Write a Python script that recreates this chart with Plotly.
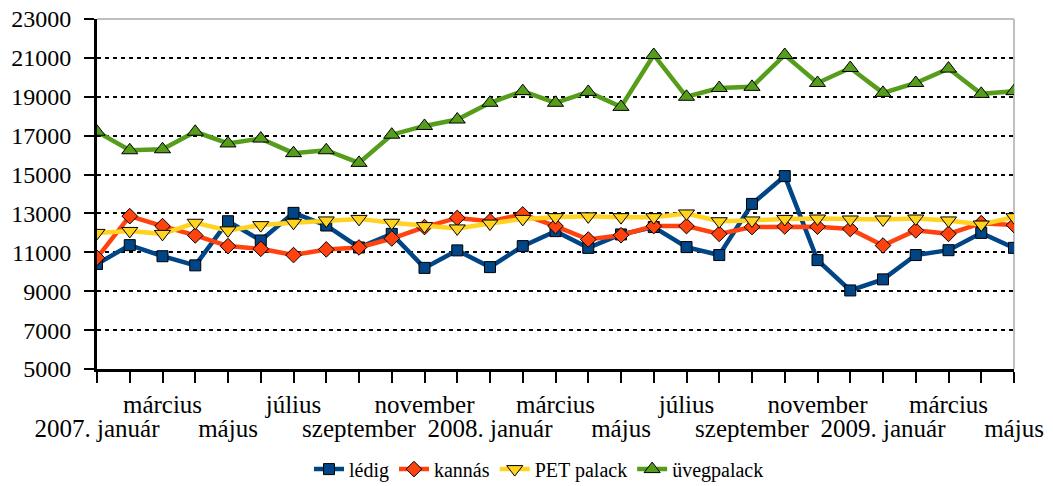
import plotly.graph_objects as go

# havi adatok: 2007. január - 2009. május
months = [
    "2007. január", "február", "március", "április", "május", "június",
    "július", "augusztus", "szeptember", "október", "november", "december",
    "2008. január", "február", "március", "április", "május", "június",
    "július", "augusztus", "szeptember", "október", "november", "december",
    "2009. január", "február", "március", "április", "május",
]

ledig = [10400, 11370, 10800, 10330, 12600, 11610, 13030, 12380, 11250, 11950,
         10200, 11100, 10240, 11320, 12090, 11230, 11920, 12300, 11270, 10860,
         13490, 14920, 10600, 9040, 9610, 10860, 11110, 12000, 11230]
kannas = [10720, 12860, 12350, 11870, 11320, 11180, 10860, 11150, 11250, 11710,
          12300, 12770, 12600, 12950, 12350, 11660, 11880, 12350, 12350, 11950,
          12300, 12330, 12320, 12200, 11350, 12130, 11950, 12500, 12400]
pet_palack = [12000, 12100, 11950, 12520, 12130, 12400, 12520, 12640, 12720, 12520,
              12350, 12230, 12480, 12720, 12810, 12850, 12810, 12810, 13000, 12600,
              12640, 12720, 12740, 12690, 12690, 12740, 12640, 12430, 12810]
uvegpalack = [17200, 16250, 16300, 17200, 16600, 16850, 16100, 16250, 15600, 17050,
              17500, 17830, 18690, 19290, 18690, 19250, 18480, 21150, 19000, 19450,
              19510, 21150, 19710, 20480, 19200, 19710, 20450, 19150, 19290]

y_ticks = list(range(5000, 23001, 2000))
y_labels = [str(v) for v in y_ticks]

FONT = "Liberation Serif"

idx = list(range(len(months)))
# felső sor: március, július, november ...; alsó sor: január, május, szeptember ...
row1_text = [m if i % 4 == 2 else "" for i, m in enumerate(months)]
row2_vals = [i for i in idx if i % 4 == 0]
row2_text = [months[i] for i in row2_vals]

series = [
    ("lédig", ledig, "#004586", "square", 11),
    ("kannás", kannas, "#ff420e", "diamond", 12),
    ("PET palack", pet_palack, "#ffd320", "triangle-down", 14),
    ("üvegpalack", uvegpalack, "#579d1c", "triangle-up", 14),
]

fig = go.Figure()

for name, values, color, symbol, size in series:
    fig.add_trace(go.Scatter(
        x=idx,
        y=values,
        name=name,
        mode="lines+markers",
        line=dict(color=color, width=4.5),
        marker=dict(symbol=symbol, size=size, color=color,
                    line=dict(color="black", width=1)),
    ))

# második sor x-címkéinek tengelye
fig.add_trace(go.Scatter(
    x=[0, 28], y=[None, None], xaxis="x2",
    showlegend=False, hoverinfo="skip",
))

tick_font = dict(family=FONT, size=25, color="black")

# the page body has an 8px margin, so the figure is a bit smaller
fig.update_layout(
    width=1045,
    height=478,
    autosize=False,
    margin=dict(l=89, r=39, t=11, b=117, autoexpand=False),
    paper_bgcolor="white",
    plot_bgcolor="white",
    font=dict(family=FONT, color="black", size=25),
    xaxis=dict(
        range=[0, 28],
        tickmode="array",
        tickvals=idx,
        ticktext=row1_text,
        ticks="outside",
        ticklen=11,
        tickwidth=2,
        tickcolor="black",
        showline=True,
        linecolor="black",
        linewidth=3,
        showgrid=False,
        zeroline=False,
        automargin=False,
        ticklabelstandoff=0,
        ticklabeloverflow="allow",
        tickfont=tick_font,
    ),
    xaxis2=dict(
        overlaying="x",
        matches="x",
        side="bottom",
        tickmode="array",
        tickvals=row2_vals,
        ticktext=row2_text,
        ticks="",
        showline=False,
        showgrid=False,
        zeroline=False,
        automargin=False,
        ticklabelstandoff=42,
        ticklabeloverflow="allow",
        tickfont=tick_font,
    ),
    yaxis=dict(
        range=[5000, 23000],
        tickmode="array",
        tickvals=y_ticks,
        ticktext=y_labels,
        ticks="outside",
        ticklen=10,
        tickwidth=2,
        tickcolor="black",
        showline=True,
        linecolor="black",
        linewidth=3,
        showgrid=True,
        gridcolor="black",
        gridwidth=2,
        griddash="4px,4px",
        zeroline=False,
        automargin=False,
        ticklabelstandoff=8,
        ticklabeloverflow="allow",
        tickfont=dict(family=FONT, size=24, color="black"),
    ),
    legend=dict(
        orientation="h",
        x=0.482,
        xanchor="center",
        y=-0.286,
        yanchor="middle",
        font=dict(family=FONT, size=20, color="black"),
        bgcolor="rgba(0,0,0,0)",
    ),
    shapes=[
        dict(type="line", xref="paper", yref="paper", x0=1, x1=1, y0=0, y1=1,
             line=dict(color="#c0c0c0", width=2), layer="below"),
        dict(type="line", xref="paper", yref="paper", x0=0, x1=1, y0=1, y1=1,
             line=dict(color="#c0c0c0", width=2), layer="below"),
    ],
)

fig.write_html("out.html")
